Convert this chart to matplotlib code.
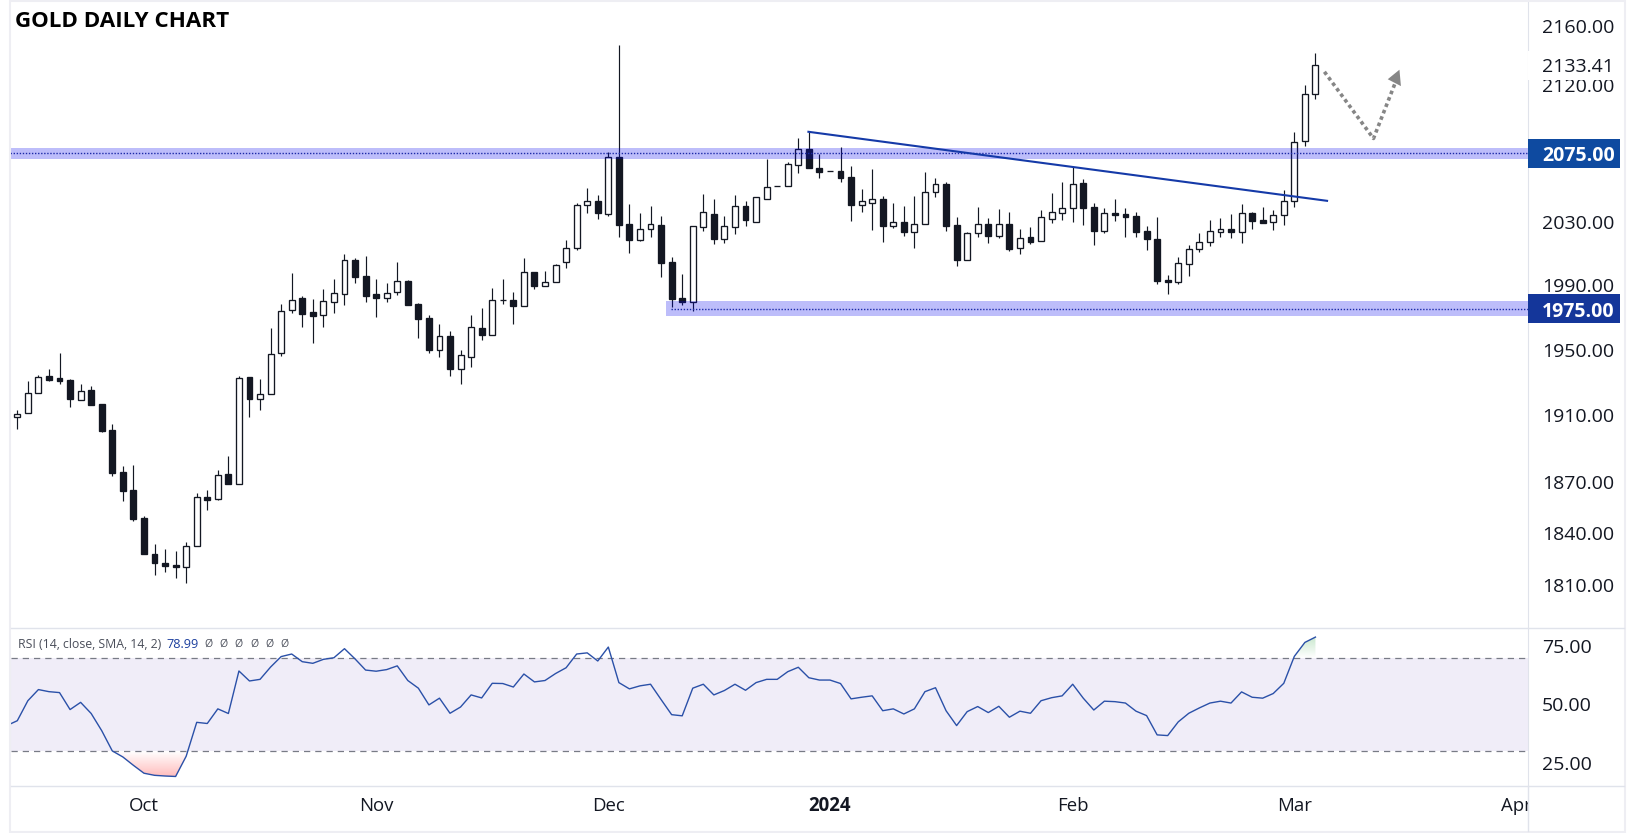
import numpy as np
import matplotlib
matplotlib.use('Agg')
import matplotlib.pyplot as plt
from matplotlib.colors import LinearSegmentedColormap
from matplotlib.lines import Line2D
from matplotlib.patches import Rectangle

# daily candles, one row per ten sessions
opens = [1908.6,1911.0,1923.7,1933.5,1932.3,1931.1,1919.4,1925.5,1917.0,1900.8,
         1875.7,1865.6,1849.1,1828.1,1822.9,1821.8,1820.4,1832.7,1861.4,1860.2,
         1874.5,1869.1,1932.9,1919.8,1923.1,1947.9,1974.7,1981.8,1973.0,1971.6,
         1979.6,1984.6,2006.3,1995.6,1984.3,1982.1,1985.9,1992.5,1978.0,1969.3,
         1949.8,1958.7,1938.2,1945.5,1963.1,1959.1,1981.1,1981.1,1977.2,1998.2,
         1989.8,1992.2,2004.8,2013.7,2040.9,2044.1,2035.5,2072.3,2028.7,2018.8,
         2025.5,2028.1,2004.5,1981.8,1979.6,2027.2,2035.1,2019.5,2027.2,2040.3,
         2030.4,2045.1,2053.4,2053.6,2067.3,2077.4,2065.0,2063.0,2063.0,2059.1,
         2041.3,2042.8,2045.4,2027.8,2030.0,2024.0,2028.7,2049.3,2054.5,2028.1,
         2006.1,2022.9,2029.3,2021.6,2029.3,2013.9,2020.4,2018.4,2031.9,2036.1,
         2039.4,2055.2,2039.6,2024.8,2036.0,2035.1,2033.8,2024.2,2019.7,1993.1,
         1992.2,2003.8,2013.3,2017.5,2024.0,2025.5,2024.0,2035.8,2031.3,2030.4,
         2034.5,2043.5,2082.7,2113.8]
highs = [1913.4,1930.6,1934.7,1937.8,1947.8,1931.7,1929.2,1927.4,1917.0,1904.4,
         1879.8,1880.4,1850.3,1833.9,1831.0,1829.8,1835.1,1863.8,1865.6,1877.4,
         1885.2,1933.5,1932.9,1931.7,1963.1,1978.2,1997.7,1983.2,1981.3,1987.5,
         1993.9,2009.7,2007.2,2008.4,1993.9,1991.4,2004.6,1993.3,1978.8,1971.4,
         1965.8,1961.4,1949.6,1971.4,1975.7,1988.3,1993.9,1985.7,2007.6,1998.2,
         1999.0,2003.8,2018.6,2042.8,2052.1,2047.6,2075.6,2147.1,2041.7,2036.0,
         2040.4,2034.0,2008.2,1997.1,2027.4,2048.2,2044.9,2034.0,2047.6,2043.7,
         2046.1,2071.0,2053.4,2068.9,2084.8,2089.0,2074.7,2063.0,2078.9,2066.5,
         2051.5,2064.5,2046.9,2042.4,2040.3,2046.9,2062.6,2058.6,2056.0,2033.2,
         2023.6,2039.8,2032.7,2038.5,2037.0,2025.5,2026.8,2037.7,2048.7,2056.0,
         2065.8,2057.8,2042.2,2039.0,2044.8,2039.0,2037.0,2027.4,2033.2,1996.3,
         2008.2,2015.3,2022.9,2031.5,2032.7,2035.3,2041.7,2037.0,2039.8,2037.7,
         2050.6,2088.6,2119.9,2141.5]
lows = [1901.7,1911.0,1923.7,1930.8,1929.0,1915.0,1919.4,1916.2,1899.8,1873.6,
        1858.8,1847.1,1827.9,1815.8,1817.5,1814.1,1811.2,1832.7,1853.5,1859.4,
        1868.9,1869.1,1908.9,1913.2,1923.1,1945.9,1972.8,1963.9,1954.1,1963.9,
        1972.8,1977.8,1991.6,1979.6,1970.3,1979.5,1983.8,1977.8,1957.3,1947.9,
        1945.5,1933.9,1929.0,1939.4,1956.0,1959.1,1978.2,1965.8,1977.2,1987.8,
        1989.8,1992.2,2001.0,2012.4,2036.1,2032.1,2034.2,2020.7,2010.5,2018.0,
        2020.7,1995.4,1976.5,1977.8,1974.0,2024.6,2016.3,2016.9,2022.7,2027.8,
        2030.4,2045.1,2053.4,2053.6,2061.9,2065.4,2058.8,2063.0,2056.2,2031.0,
        2036.8,2025.2,2017.5,2026.5,2021.4,2013.7,2028.7,2046.3,2024.6,2002.3,
        2006.1,2020.7,2016.9,2020.1,2011.8,2009.9,2016.3,2018.4,2029.7,2031.7,
        2030.4,2028.4,2015.6,2023.3,2031.0,2020.7,2020.7,2012.5,1991.0,1984.7,
        1991.0,1996.0,2011.1,2015.0,2020.7,2020.1,2016.9,2025.9,2029.7,2025.2,
        2028.4,2040.0,2079.7,2110.9]
closes = [1910.8,1923.5,1933.3,1931.4,1930.8,1919.8,1924.7,1916.2,1900.6,1875.4,
          1864.7,1848.3,1827.9,1822.7,1821.0,1820.4,1832.5,1861.2,1859.4,1874.2,
          1868.9,1932.6,1919.8,1922.9,1947.3,1973.7,1981.1,1972.2,1970.9,1979.9,
          1984.9,2006.3,1995.4,1983.4,1982.1,1985.5,1992.5,1977.8,1969.1,1949.8,
          1958.7,1938.2,1946.4,1963.7,1959.1,1981.1,1981.0,1977.2,1998.2,1989.8,
          1992.2,2002.6,2013.9,2040.9,2044.1,2036.1,2072.1,2028.4,2018.8,2025.5,
          2028.7,2004.2,1981.5,1979.6,2027.4,2036.4,2019.5,2027.4,2040.3,2031.7,
          2046.1,2052.6,2053.4,2067.6,2077.4,2065.4,2062.6,2063.0,2058.8,2041.3,
          2043.5,2045.4,2027.8,2030.0,2024.0,2028.7,2049.3,2054.5,2027.8,2006.1,
          2022.9,2029.1,2021.4,2029.3,2013.0,2020.1,2017.5,2033.2,2037.0,2039.0,
          2054.5,2039.4,2024.6,2035.8,2034.9,2033.6,2024.0,2019.5,1992.9,1992.2,
          2004.2,2013.0,2017.5,2024.2,2025.9,2024.0,2035.8,2031.0,2029.7,2034.5,
          2043.9,2082.4,2114.2,2133.41]

# first value is the session before the left edge
rsi_values = [40.9,
              43.0,51.6,56.4,55.5,55.1,47.8,50.9,46.1,38.7,30.0,
              27.4,23.8,20.4,19.5,19.2,19.0,27.7,42.3,41.8,48.1,
              46.1,64.4,60.1,60.8,66.1,70.6,71.7,68.4,67.7,69.4,
              70.1,74.0,69.6,64.8,64.3,65.0,66.6,60.3,57.0,49.8,
              52.7,46.2,48.9,54.1,52.8,59.1,59.0,57.5,63.1,59.7,
              60.3,63.3,65.8,71.7,72.2,68.7,74.7,59.4,56.7,58.0,
              58.7,52.1,45.6,45.1,57.0,58.7,54.1,56.0,58.7,56.1,
              59.4,60.8,60.8,64.1,66.0,61.5,60.5,60.5,59.0,52.4,
              53.1,53.7,47.3,48.1,45.9,48.1,55.5,57.2,47.3,40.9,
              46.9,49.1,46.5,49.2,44.5,47.1,46.2,51.6,52.9,53.7,
              58.7,52.7,47.6,51.4,51.2,50.6,47.1,45.2,36.9,36.6,
              42.5,46.2,48.5,50.6,51.4,50.6,55.4,53.1,52.7,54.7,
              59.1,70.7,76.7,78.99]

price_ticks = [2160, 2120, 2080, 2030, 1990, 1950, 1910, 1870, 1840, 1810]
rsi_ticks = [75, 50, 25]
month_pos = [12, 34, 56, 77, 100, 121, 142]
month_names = ['Oct', 'Nov', 'Dec', '2024', 'Feb', 'Mar', 'Apr']

trend_x = [74.96, 124.1]
trend_y = [2089.0, 2043.9]
path_x = [123.85, 128.5, 130.55]
path_y = [2129.0, 2084.6, 2121.4]
head_x = [130.96, 129.85, 131.1]
head_y = [2130.4, 2124.0, 2119.4]

W = 1634.0
H = 833.0
LEFT = 11
RIGHT = 1528

plt.rcParams['font.family'] = ['Open Sans', 'DejaVu Sans']

def pane(top, bottom):
    # pixel box of the picture to figure fractions
    return [LEFT/W, 1-bottom/H, (RIGHT-LEFT)/W, (bottom-top)/H]

def scale_tag(low, high, color):
    # box on the price scale, it hides the tick labels under it
    plt.gca().add_patch(Rectangle((1, low), 92.0/(RIGHT-LEFT), high-low, transform=plt.gca().get_yaxis_transform(),
                                  facecolor=color, edgecolor='none', clip_on=False, zorder=4))

def draw_candles():
    o = np.array(opens)
    c = np.array(closes)
    days = np.arange(len(o))
    up = c > o
    ink = "#131722"
    plt.vlines(days, lows, highs, color=ink, linewidth=0.85, zorder=1)
    plt.bar(days[up], (c-o)[up], bottom=o[up], width=0.56, facecolor="#ffffff", edgecolor=ink, linewidth=0.95, zorder=2)
    plt.bar(days[~up], (o-c)[~up], bottom=c[~up], width=0.56, facecolor=ink, edgecolor=ink, linewidth=0.95, zorder=2)

def draw_price():
    plt.axes(pane(2, 628))
    plt.yscale('log')
    draw_candles()
    band = "#0000ec"
    dots = "#1c2aa8"
    # support and resistance zones
    plt.fill_between([-1, 144], 2071.0, 2078.2, color=band, alpha=0.26, linewidth=0, zorder=2.2)
    plt.fill_between([61.47, 144], 1970.7, 1980.1, color=band, alpha=0.26, linewidth=0, zorder=2.2)
    plt.plot([-1, 144], [2075, 2075], color=dots, linewidth=1.0, linestyle=(0, (1, 1.2)), zorder=2.3)
    plt.plot([61.97, 144], [1975, 1975], color=dots, linewidth=1.0, linestyle=(0, (1, 1.2)), zorder=2.3)
    plt.plot(trend_x, trend_y, color="#153aa8", linewidth=1.5, zorder=3)
    # projected path
    plt.plot(path_x, path_y, color="#868686", linewidth=2.6, linestyle=(0, (1, 0.9)), zorder=3)
    plt.fill(head_x, head_y, color="#868686", linewidth=0, zorder=3)
    plt.xlim(-0.597, 143.14)
    plt.ylim(1785.7, 2176.5)
    plt.xticks([])
    plt.yticks(price_ticks, ['%.2f' % t for t in price_ticks], fontsize=14, color="#131722")
    plt.minorticks_off()
    plt.tick_params(axis='y', which='both', left=False, right=False, labelleft=False, labelright=True, length=0, pad=10)
    ax = plt.gca()
    ax.spines[['top', 'left', 'bottom']].set_visible(False)
    ax.spines['right'].set_color("#e0e3eb")
    # the boxes on the scale
    scale_tag(2123.5, 2143.0, "#ffffff")
    scale_tag(2065.2, 2084.2, "#0e4aa0")
    scale_tag(1966.4, 1984.5, "#14369a")
    tag_x = ax.get_yaxis_transform()
    plt.text(1.0092, 2133.41, '2133.41', transform=tag_x, fontsize=14, color="#131722", va='center_baseline', zorder=5, clip_on=False)
    plt.text(1.0092, 2075, '2075.00', transform=tag_x, fontsize=14, fontweight='bold', color="#ffffff", va='center_baseline', zorder=5, clip_on=False)
    plt.text(1.0092, 1975, '1975.00', transform=tag_x, fontsize=14, fontweight='bold', color="#ffffff", va='center_baseline', zorder=5, clip_on=False)
    # giving a title to my graph
    plt.text(4/(RIGHT-LEFT), 1-17/626.0, 'GOLD DAILY CHART', transform=ax.transAxes, fontsize=16.1, fontweight='bold', color="#000000", va='center_baseline')

def gradient(x, y, level, extent, colors):
    poly = plt.fill_between(x, y, level, where=(y < level) if level < 50 else (y > level), interpolate=True, facecolor='none', linewidth=0)
    ramp = LinearSegmentedColormap.from_list('ramp', colors)
    im = plt.imshow(np.linspace(0, 1, 64).reshape(-1, 1), extent=extent, aspect='auto', cmap=ramp, zorder=1.5)
    im.set_clip_path(poly.get_paths()[0], transform=plt.gca().transData)

def draw_rsi():
    plt.axes(pane(628, 786))
    rsi = np.array(rsi_values)
    days = np.arange(-1, len(rsi)-1)
    plt.axhspan(30, 70, color="#f0edf8", linewidth=0, zorder=1)
    plt.axhline(70, color="#787b86", linewidth=0.9, linestyle=(0, (5, 4)), zorder=2)
    plt.axhline(30, color="#787b86", linewidth=0.9, linestyle=(0, (5, 4)), zorder=2)
    # oversold and overbought shading
    gradient(days[9:19], rsi[9:19], 30, [9, 18, 18.5, 30], ['#ffffff', '#ffb9b9'])
    gradient(days[-4:], rsi[-4:], 70, [120, 123, 70, 79.5], ['#c5e6ca', '#ffffff'])
    plt.plot(days, rsi, color="#2a50a8", linewidth=1.0, zorder=3)
    plt.xlim(-0.597, 143.14)
    plt.ylim(14.9, 82.9)
    plt.xticks([])
    plt.yticks(rsi_ticks, ['%.2f' % t for t in rsi_ticks], fontsize=14, color="#131722")
    plt.tick_params(axis='y', left=False, labelleft=False, labelright=True, length=0, pad=10)
    ax = plt.gca()
    ax.spines[['top', 'left', 'bottom']].set_visible(False)
    ax.spines['right'].set_color("#e0e3eb")
    plt.text(7/(RIGHT-LEFT), 1-16/158.0, 'RSI (14, close, SMA, 14, 2)', transform=ax.transAxes, fontsize=8.8, color="#4a4e5a", va='center')
    plt.text(155/(RIGHT-LEFT), 1-16/158.0, '78.99', transform=ax.transAxes, fontsize=9.2, color="#1c3f9e", va='center')
    for n in range(6):
        plt.text((193+15.3*n)/(RIGHT-LEFT), 1-16/158.0, '\u00d8', transform=ax.transAxes, fontsize=7.6, color="#4a4e5a", va='center')

def draw_time():
    plt.axes(pane(786, 831))
    plt.xlim(-0.597, 143.14)
    plt.ylim(0, 1)
    plt.axis('off')
    for x, name in zip(month_pos, month_names):
        # year label is the heavy one
        weight = 'bold' if name == '2024' else 'normal'
        plt.text(x, 0.55, name, fontsize=13.4, fontweight=weight, color="#131722", ha='center', va='center', clip_on=True)

def draw_chart():
    fig = plt.figure(figsize=(W/100, H/100), dpi=100, facecolor="#ffffff")
    draw_price()
    draw_rsi()
    draw_time()
    # panel separators and the outer frame
    grid = "#e0e3eb"
    fig.add_artist(Line2D([LEFT/W, 1624/W], [1-628/H, 1-628/H], color=grid, linewidth=1.0))
    fig.add_artist(Line2D([LEFT/W, 1624/W], [1-786/H, 1-786/H], color=grid, linewidth=1.0))
    fig.add_artist(Line2D([RIGHT/W, RIGHT/W], [1-831/H, 1-786/H], color=grid, linewidth=1.0))
    fig.add_artist(Rectangle((10/W, 1-832/H), 1615/W, 831/H, transform=fig.transFigure, facecolor='none', edgecolor="#eeeef3", linewidth=1.5))
    fig.savefig('out.png', dpi=100)


if __name__ == "__main__":
    draw_chart()
